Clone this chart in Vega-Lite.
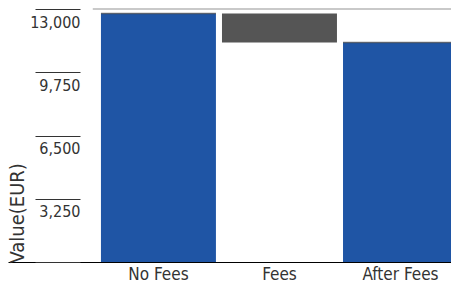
{
  "$schema": "https://vega.github.io/schema/vega-lite/v6.json",
  "autosize": "none",
  "width": 450,
  "height": 253,
  "padding": {"left": 8, "top": 9, "right": 0, "bottom": 24},
  "background": "#ffffff",
  "config": {
    "view": {"stroke": null},
    "font": "DejaVu Sans Condensed, sans-serif",
    "axis": {
      "labelFont": "DejaVu Sans Condensed, sans-serif",
      "titleFont": "DejaVu Sans Condensed, sans-serif",
      "labelColor": "#333333",
      "titleColor": "#333333"
    }
  },
  "data": {
    "values": [
      {"label": "No Fees", "start": 0, "end": 12770, "kind": "total"},
      {"label": "Fees", "start": 11280, "end": 12770, "kind": "fee"},
      {"label": "After Fees", "start": 0, "end": 11280, "kind": "total"}
    ]
  },
  "layer": [
    {
      "mark": {"type": "bar"},
      "encoding": {
        "x": {
          "field": "label",
          "type": "nominal",
          "sort": ["No Fees", "Fees", "After Fees"],
          "scale": {"paddingInner": 0.05, "paddingOuter": 0.384, "align": 1},
          "axis": {
            "title": null,
            "ticks": false,
            "domainColor": "#000000",
            "domainWidth": 1,
            "bandPosition": 0.5,
            "labelAngle": 0,
            "labelAlign": "center",
            "labelFontSize": 17,
            "labelPadding": 4
          }
        },
        "y": {
          "field": "end",
          "type": "quantitative",
          "scale": {"domain": [0, 13000], "nice": false},
          "axis": {
            "values": [0, 3250, 6500, 9750, 13000],
            "format": ",.0f",
            "labelExpr": "datum.value == 0 ? '' : datum.label",
            "grid": false,
            "domain": false,
            "offset": -72,
            "tickSize": 45,
            "tickColor": "#333333",
            "tickWidth": 1,
            "labelAlign": "right",
            "labelBaseline": "top",
            "labelPadding": -45,
            "labelOffset": 5,
            "labelFontSize": 16,
            "labelOverlap": false,
            "labelBound": false,
            "title": "Value(EUR)",
            "titleAngle": -90,
            "titleAlign": "left",
            "titleBaseline": "middle",
            "titleX": -63,
            "titleY": 254,
            "titleFontSize": 20,
            "titleFontWeight": "normal"
          }
        },
        "y2": {"field": "start"},
        "color": {
          "field": "kind",
          "type": "nominal",
          "scale": {"domain": ["total", "fee"], "range": ["#1f55a5", "#555555"]},
          "legend": null
        }
      }
    },
    {
      "transform": [{"filter": "datum.kind == 'total'"}],
      "mark": {"type": "tick", "color": "#444444", "thickness": 1.5, "size": 115},
      "encoding": {
        "x": {"field": "label", "type": "nominal", "sort": ["No Fees", "Fees", "After Fees"]},
        "y": {"field": "end", "type": "quantitative"}
      }
    },
    {
      "mark": {"type": "rule", "color": "#c8c8c8", "strokeWidth": 1.5},
      "encoding": {
        "y": {"datum": 13000, "type": "quantitative"},
        "x": {"datum": "No Fees", "type": "nominal", "bandPosition": -0.07},
        "x2": {"datum": "After Fees", "bandPosition": 1}
      }
    }
  ]
}
